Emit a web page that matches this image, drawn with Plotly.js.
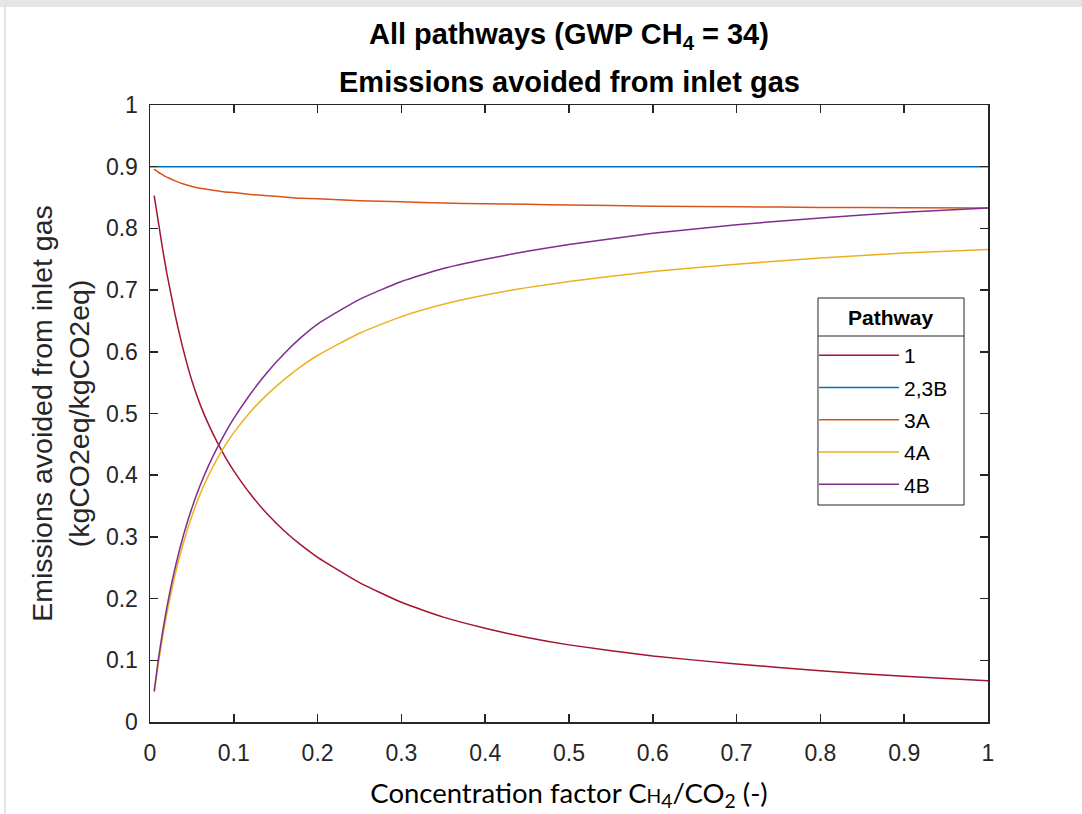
<!DOCTYPE html>
<html>
<head>
<meta charset="utf-8">
<script src="https://cdn.plot.ly/plotly-3.0.1.min.js"></script>
<style>
  html, body { margin: 0; padding: 0; background: #ffffff; }
  #topband { position: absolute; left: 0; top: 0; width: 1082px; height: 7px; background: #e6e6e6; }
  #leftline { position: absolute; left: 4px; top: 0; width: 2px; height: 814px; background: #e3e3e3; }
  #chart { position: absolute; left: 0; top: 0; width: 1082px; height: 814px; }
</style>
</head>
<body>
<div id="topband"></div>
<div id="leftline"></div>
<div id="chart"></div>
<script>
// Concentration factor CH4/CO2 (-)
const concFactor = [0.005, 0.01, 0.015, 0.02, 0.03, 0.04, 0.05, 0.06, 0.07, 0.08, 0.09, 0.1,
                    0.12, 0.14, 0.16, 0.18, 0.2, 0.25, 0.3, 0.35, 0.4, 0.45, 0.5, 0.6, 0.7, 0.8, 0.9, 1.0];

// Pathway 1
const pathway1 = [0.853, 0.810, 0.767, 0.728, 0.660, 0.602, 0.553, 0.514, 0.482, 0.454, 0.429, 0.407,
                  0.369, 0.337, 0.310, 0.287, 0.267, 0.226, 0.194, 0.170, 0.152, 0.137, 0.125, 0.107, 0.094, 0.083, 0.074, 0.067];

// Pathway 2,3B (constant)
const pathway23BX = [0, 1];
const pathway23B = [0.9, 0.9];

// Pathway 3A
const pathway3A = [0.896, 0.891, 0.887, 0.883, 0.877, 0.872, 0.868, 0.865, 0.863, 0.861, 0.859, 0.858,
                   0.855, 0.853, 0.851, 0.849, 0.848, 0.845, 0.843, 0.841, 0.840, 0.839, 0.838, 0.836, 0.835, 0.834, 0.8335, 0.833];

// Pathway 4A
const pathway4A = [0.048, 0.095, 0.137, 0.175, 0.239, 0.291, 0.334, 0.370, 0.400, 0.426, 0.449, 0.469,
                   0.503, 0.531, 0.555, 0.576, 0.594, 0.630, 0.657, 0.677, 0.692, 0.704, 0.714, 0.730, 0.742, 0.752, 0.760, 0.766];

// Pathway 4B
const pathway4B = [0.050, 0.102, 0.146, 0.185, 0.250, 0.303, 0.347, 0.384, 0.416, 0.444, 0.469, 0.492,
                   0.532, 0.567, 0.597, 0.623, 0.645, 0.685, 0.714, 0.735, 0.750, 0.763, 0.774, 0.792, 0.806, 0.817, 0.826, 0.833];

const seriesNames = ['1', '2,3B', '3A', '4A', '4B'];
const seriesColors = ['#A2142F', '#0072BD', '#D95319', '#EDB120', '#7E2F8E'];
const legendTitle = 'Pathway';

const xs = [concFactor, pathway23BX, concFactor, concFactor, concFactor];
const ys = [pathway1, pathway23B, pathway3A, pathway4A, pathway4B];

const traces = seriesNames.map((name, i) => ({
  type: 'scatter',
  mode: 'lines',
  name: name,
  x: xs[i],
  y: ys[i],
  legendgroup: 'g' + i,
  line: { color: seriesColors[i], width: 1.5, shape: 'spline', smoothing: 0.5 }
}));

const sans = 'Liberation Sans, Arial, sans-serif';
const axisFont = { family: sans, size: 23, color: '#262626' };

// legend box frame (paper coordinates)
const legBox = { x0: 0.7971, x1: 0.9714, y0: 0.3517, y1: 0.6872, sep: 0.6256, titleY: 0.6548 };

const layout = {
  width: 1082,
  height: 814,
  paper_bgcolor: 'rgba(0,0,0,0)',
  plot_bgcolor: '#ffffff',
  margin: { l: 150, r: 94, t: 105, b: 92, pad: 0 },
  showlegend: true,
  title: {
    text: '<b>All pathways (GWP CH<sub>4</sub> = 34)</b>',
    font: { family: sans, size: 29, color: '#000000' },
    x: 0.5258, xanchor: 'center',
    y: 0.959, yanchor: 'middle'
  },
  annotations: [{
    text: '<b>Emissions avoided from inlet gas</b>',
    xref: 'paper', yref: 'paper', x: 0.5, y: 1.037,
    xanchor: 'center', yanchor: 'middle', showarrow: false,
    font: { family: sans, size: 29, color: '#000000' }
  }, {
    text: '<b>' + legendTitle + '</b>',
    xref: 'paper', yref: 'paper', x: (legBox.x0 + legBox.x1) / 2, y: legBox.titleY,
    xanchor: 'center', yanchor: 'middle', showarrow: false,
    font: { family: sans, size: 21, color: '#000000' }
  }],
  shapes: [{
    type: 'rect', xref: 'paper', yref: 'paper', layer: 'above',
    x0: legBox.x0, x1: legBox.x1, y0: legBox.y0, y1: legBox.y1,
    fillcolor: '#ffffff', line: { color: '#262626', width: 1 }
  }, {
    type: 'line', xref: 'paper', yref: 'paper', layer: 'above',
    x0: legBox.x0, x1: legBox.x1, y0: legBox.sep, y1: legBox.sep,
    line: { color: '#262626', width: 1 }
  }],
  xaxis: {
    range: [0, 1],
    dtick: 0.1, tick0: 0,
    ticks: 'inside', ticklen: 8, tickwidth: 1.5, tickcolor: '#262626',
    showline: true, linecolor: '#262626', linewidth: 1.5, mirror: 'allticks',
    showgrid: false, zeroline: false,
    tickfont: axisFont,
    ticklabelstandoff: 10,
    title: {
      text: 'Concentration factor C<span style="font-size:70%">H</span><sub>4</sub>/CO<sub>2</sub> (-)',
      font: { family: 'Lato, sans-serif', size: 27.5, color: '#000000' },
      standoff: 18
    }
  },
  yaxis: {
    range: [0, 1],
    dtick: 0.1, tick0: 0,
    ticks: 'inside', ticklen: 8, tickwidth: 1.5, tickcolor: '#262626',
    showline: true, linecolor: '#262626', linewidth: 1.5, mirror: 'allticks',
    showgrid: false, zeroline: false,
    tickfont: axisFont,
    ticklabelstandoff: 6,
    title: {
      text: 'Emissions avoided from inlet gas<br>(kgCO2eq/kgCO2eq)',
      font: { family: sans, size: 28.5, color: '#262626' },
      standoff: 8
    }
  },
  legend: {
    x: 0.7924, y: 0.6272, xanchor: 'left', yanchor: 'top',
    bgcolor: 'rgba(0,0,0,0)', borderwidth: 0,
    font: { family: sans, size: 21, color: '#000000' },
    tracegroupgap: 2,
    itemwidth: 80,
    traceorder: 'grouped'
  }
};

Plotly.newPlot('chart', traces, layout, { displayModeBar: false, staticPlot: true });
</script>
</body>
</html>
